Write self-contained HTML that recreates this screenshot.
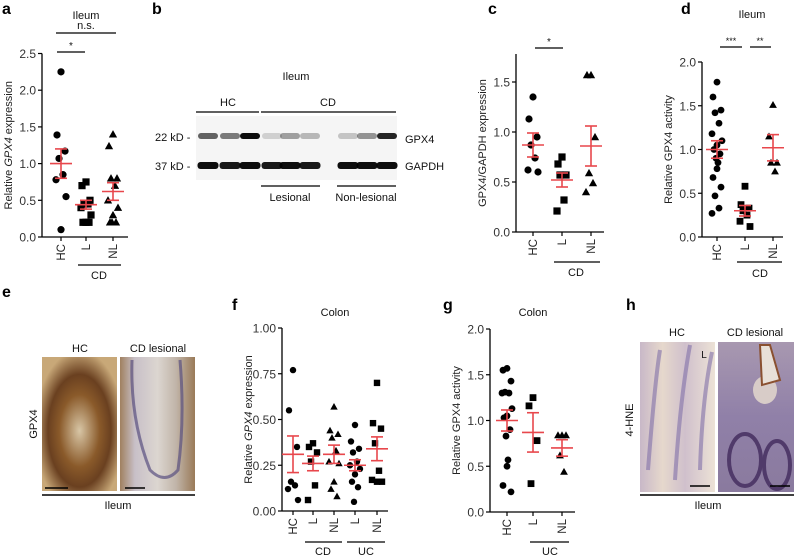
<!DOCTYPE html>
<html><head><meta charset="utf-8">
<style>
body{margin:0;background:#fff;}
svg{display:block;font-family:"Liberation Sans",sans-serif;}
</style></head>
<body>
<svg id="fig" width="794" height="557" viewBox="0 0 794 557">
<defs>
<radialGradient id="eHC" cx="50%" cy="55%" r="60%"><stop offset="0" stop-color="#d8c6a6"/><stop offset="0.45" stop-color="#8a5a2a"/><stop offset="0.7" stop-color="#6a4020"/><stop offset="1" stop-color="#c8a878"/></radialGradient>
<linearGradient id="eCD" x1="0" x2="1"><stop offset="0" stop-color="#a08060"/><stop offset="0.2" stop-color="#c8c0c8"/><stop offset="0.5" stop-color="#dcd6d0"/><stop offset="0.75" stop-color="#c0b4a8"/><stop offset="1" stop-color="#9a7a58"/></linearGradient>
<linearGradient id="hHC" x1="0" x2="1"><stop offset="0" stop-color="#c8b8c8"/><stop offset="0.3" stop-color="#e6d8cc"/><stop offset="0.6" stop-color="#d0c0cc"/><stop offset="1" stop-color="#ece2d6"/></linearGradient>
<linearGradient id="hCD" x1="0" y1="0" x2="0" y2="1"><stop offset="0" stop-color="#a898b0"/><stop offset="0.5" stop-color="#9080a8"/><stop offset="1" stop-color="#8a7a9e"/></linearGradient>
</defs>
<g id="static"></g>
<g id="charts"></g>
</svg>
<script>
// ---- data ----
const groupsA = ["HC","L","NL"];
const aHC = [2.25,1.39,1.17,1.07,0.85,0.78,0.55,0.1];
const aL = [0.75,0.7,0.5,0.45,0.45,0.4,0.3,0.2,0.2,0.2];
const aNL = [1.4,1.24,0.8,0.8,0.7,0.5,0.4,0.3,0.2,0.2,0.2];
const aMean = [1.0,0.44,0.62];
const aErr = [0.2,0.06,0.12];
const aTicks = [0,0.5,1.0,1.5,2.0,2.5];

const cHC = [1.35,1.13,0.95,0.87,0.74,0.62,0.6];
const cL = [0.75,0.68,0.57,0.57,0.32,0.21];
const cNL = [1.57,1.57,0.95,0.59,0.49,0.4];
const cMean = [0.87,0.52,0.86];
const cErr = [0.12,0.07,0.2];
const cTicks = [0,0.5,1.0,1.5];

const dHC = [1.77,1.6,1.45,1.42,1.3,1.18,1.1,1.05,1.0,0.95,0.9,0.85,0.78,0.68,0.57,0.47,0.33,0.27];
const dL = [0.58,0.37,0.33,0.3,0.25,0.18,0.12];
const dNL = [1.51,1.15,0.85,0.85,0.75];
const dMean = [1.0,0.3,1.02];
const dErr = [0.1,0.06,0.15];
const dTicks = [0,0.5,1.0,1.5,2.0];

const groupsF = ["HC","L","NL","L","NL"];
const fHC = [0.77,0.55,0.35,0.16,0.14,0.12,0.06];
const fCDL = [0.37,0.35,0.32,0.27,0.14,0.06];
const fCDNL = [0.57,0.44,0.42,0.40,0.33,0.27,0.26,0.16,0.12,0.08];
const fUCL = [0.47,0.38,0.34,0.32,0.27,0.25,0.23,0.2,0.16,0.13,0.05];
const fUCNL = [0.70,0.48,0.45,0.37,0.22,0.17,0.16,0.16];
const fMean = [0.31,0.26,0.31,0.25,0.34];
const fErr = [0.1,0.04,0.05,0.03,0.065];
const fTicks = [0,0.25,0.5,0.75,1.0];

const gHC = [1.57,1.55,1.43,1.31,1.3,1.3,1.13,1.05,1.03,0.9,0.83,0.57,0.5,0.29,0.22];
const gL = [1.25,1.16,0.78,0.31];
const gNL = [0.84,0.84,0.84,0.62,0.44];
const gMean = [1.0,0.87,0.7];
const gErr = [0.115,0.215,0.09];
const gTicks = [0,0.5,1.0,1.5,2.0];

const gelGPX4 = [0.6,0.5,0.95,0.15,0.35,0.25,0.2,0.4,0.85];
const gelGAPDH = [0.95,0.9,0.95,0.9,0.95,0.9,0.95,0.95,0.95];

const NS = "http://www.w3.org/2000/svg";
const charts = document.getElementById('charts');
const stat = document.getElementById('static');
function mk(tag, attrs, parent, text){
  const e = document.createElementNS(NS, tag);
  for (const k in attrs) e.setAttribute(k, attrs[k]);
  if (text !== undefined) e.textContent = text;
  (parent||charts).appendChild(e);
  return e;
}
function txt(x,y,s,size,parent,anchor,extra){
  return mk('text',Object.assign({x:x,y:y,'font-size':size,'text-anchor':anchor||'middle',fill:'#111'},extra||{}),parent,s);
}
function marker(g,shape,x,y,r){
  let e;
  if(shape==='c') e = mk('circle',{cx:x,cy:y,r:r,fill:'#000'},g);
  else if(shape==='s') e = mk('rect',{x:x-r,y:y-r,width:2*r,height:2*r,fill:'#000'},g);
  else e = mk('polygon',{points:`${x},${y-r*1.15} ${x-r*1.15},${y+r*0.9} ${x+r*1.15},${y+r*0.9}`,fill:'#000'},g);
  return e;
}
const jit = [0,-4,4,-2,2,-5,5,0,-3,3,-1,1];
function panel(p){
  const g = mk('g',{});
  
  
  const Y = v => p.y0 - v*p.ppu;
  const top = Y(p.ymax);
  mk('line',{x1:p.ax,y1:top,x2:p.ax,y2:p.y0,stroke:'#000','stroke-width':1.3},g);
  mk('line',{x1:p.ax,y1:p.y0,x2:p.xend,y2:p.y0,stroke:'#000','stroke-width':1.3},g);
  p.ticks.forEach(t=>{
    mk('line',{x1:p.ax-4,y1:Y(t),x2:p.ax,y2:Y(t),stroke:'#000','stroke-width':1.2},g);
    const lab = txt(p.ax-6,Y(t)+4.5,t.toFixed(p.dec),12,g,'end',{fill:'#333'});
    
    
  });
  const yt = txt(0,0,'',11,g,'middle',{transform:`translate(${p.ax-30},${(top+p.y0)/2}) rotate(-90)`,fill:'#222'});
  
  
  p.title.forEach(part=>{ mk('tspan',part[1]?{'font-style':'italic'}:{},yt,part[0]); });
  p.gx.forEach((x,i)=>{
    mk('line',{x1:x,y1:p.y0,x2:x,y2:p.y0+4,stroke:'#000','stroke-width':1.2},g);
    const l = txt(0,0,p.groups[i],11.5,g,'end',{transform:`translate(${x+4},${p.y0+7}) rotate(-90)`,fill:'#222'});
    
    
    const pts = p.series[i];
    pts.forEach((v,j)=>{
      const m = marker(g,p.shapes[i],x+jit[j%jit.length]*p.js,Y(v),p.r);
      
      
    });
    const mean=p.mean[i], e=p.err[i];
    const eb = mk('g',{stroke:'#e8474c','stroke-width':1.6},g);
    
    
    mk('line',{x1:x-11,y1:Y(mean),x2:x+11,y2:Y(mean)},eb);
    mk('line',{x1:x,y1:Y(mean-e),x2:x,y2:Y(mean+e)},eb);
    mk('line',{x1:x-6,y1:Y(mean-e),x2:x+6,y2:Y(mean-e)},eb);
    mk('line',{x1:x-6,y1:Y(mean+e),x2:x+6,y2:Y(mean+e)},eb);
  });
  return g;
}
panel({name:'panel-a-chart',ax:42,xend:128,y0:237,ppu:73.4,ymax:2.5,ticks:aTicks,dec:1,gx:[61,86,113],groups:groupsA,series:[aHC,aL,aNL],mean:aMean,err:aErr,shapes:['c','s','t'],r:3.6,js:1,title:[['Relative '],['GPX4',true],[' expression']]});
panel({name:'panel-c-chart',ax:516,xend:604,y0:232,ppu:100,ymax:1.78,ticks:cTicks,dec:1,gx:[533,562,591],groups:groupsA,series:[cHC,cL,cNL],mean:cMean,err:cErr,shapes:['c','s','t'],r:3.6,js:1,title:[['GPX4/GAPDH expression']]});
panel({name:'panel-d-chart',ax:702,xend:783,y0:237,ppu:87.5,ymax:2.0,ticks:dTicks,dec:1,gx:[717,745,773],groups:groupsA,series:[dHC,dL,dNL],mean:dMean,err:dErr,shapes:['c','s','t'],r:3.4,js:1,title:[['Relative GPX4 activity']]});
panel({name:'panel-f-chart',ax:282,xend:388,y0:511,ppu:183,ymax:1.0,ticks:fTicks,dec:2,gx:[293,313,334,355,377],groups:groupsF,series:[fHC,fCDL,fCDNL,fUCL,fUCNL],mean:fMean,err:fErr,shapes:['c','s','t','c','s'],r:3.2,js:1,title:[['Relative '],['GPX4',true],[' expression']]});
panel({name:'panel-g-chart',ax:490,xend:575,y0:512,ppu:91.5,ymax:2.0,ticks:gTicks,dec:1,gx:[507,533,562],groups:groupsA,series:[gHC,gL,gNL],mean:gMean,err:gErr,shapes:['c','s','t'],r:3.4,js:1,title:[['Relative GPX4 activity']]});

// ---- annotations ----
function line(x1,y1,x2,y2,w,name,par){const l=mk('line',{x1:x1,y1:y1,x2:x2,y2:y2,stroke:'#000','stroke-width':w||1.2},par||stat);return l;}
function lab(x,y,s,size,name,extra,anchor){const t=txt(x,y,s,size,stat,anchor||'middle',extra);return t;}
[['a',2,14],['b',152,14],['c',488,14],['d',681,14],['e',2,297],['f',232,310],['g',443,310],['h',626,310]].forEach(a=>{lab(a[1],a[2],a[0],16,'panel-label-'+a[0],{'font-weight':'bold',fill:'#000'},'start');});
lab(86,19,'Ileum',11,'panel-a-title');
line(56,33,116,33,1.2,'ns-bracket'); lab(86,29,'n.s.',11,'ns-label');
line(57,52,85,52,1.2,'sig-bracket'); lab(71,49,'*',10,'sig-label');
line(78,265,121,265,1.2,'cd-group-line'); lab(99,279,'CD',11,'cd-group-label');
line(535,48,563,48,1.2,'sig-bracket'); lab(549,45,'*',10,'sig-label');
line(554,262,600,262,1.2,'cd-group-line'); lab(576,276,'CD',11,'cd-group-label');
lab(752,18,'Ileum',11,'panel-d-title');
line(720,47,742,47,1.2,'sig-bracket'); lab(731,44,'***',9,'sig-label');
line(750,47,771,47,1.2,'sig-bracket'); lab(760,44,'**',9,'sig-label');
line(737,262,782,262,1.2,'cd-group-line'); lab(760,277,'CD',11,'cd-group-label');
lab(335,316,'Colon',11,'panel-f-title');
line(305,542,342,542,1.2,'cd-group-line'); lab(323,555,'CD',11,'cd-group-label');
line(347,542,385,542,1.2,'uc-group-line'); lab(366,555,'UC',11,'uc-group-label');
lab(533,316,'Colon',11,'panel-g-title');
line(530,542,569,542,1.2,'uc-group-line'); lab(550,555,'UC',11,'uc-group-label');

// ---- panel b western blot ----
lab(296,80,'Ileum',11,'panel-b-title');
line(196,112,259,112,1.2,'hc-lane-line'); lab(228,106,'HC',11,'hc-lane-label');
line(261,112,396,112,1.2,'cd-lane-line'); lab(328,106,'CD',11,'cd-lane-label');
const gel = mk('rect',{x:196,y:116,width:201,height:64,fill:'#f5f5f5'},stat);

const lanes=[208,230,250,272,290,310,348,367,387];
gelGPX4.forEach((v,i)=>{const b=mk('rect',{x:lanes[i]-10,y:133,width:20,height:6,rx:3,fill:'#000','fill-opacity':v},stat);});
gelGAPDH.forEach((v,i)=>{const b=mk('rect',{x:lanes[i]-10.5,y:162,width:21,height:7,rx:3,fill:'#000','fill-opacity':v},stat);});
lab(155,141,'22 kD -',11,'marker-22kd',{},'start');
lab(155,170,'37 kD -',11,'marker-37kd',{},'start');
lab(405,143,'GPX4',11,'gpx4-label',{},'start');
lab(405,170,'GAPDH',11,'gapdh-label',{},'start');
line(261,186,320,186,1.2,'lesional-line'); lab(290,201,'Lesional',11,'lesional-label');
line(337,186,396,186,1.2,'nonlesional-line'); lab(366,201,'Non-lesional',11,'nonlesional-label');

// ---- panel e / h images ----
function img(x,y,w,h,fill,name){const r=mk('rect',{x:x,y:y,width:w,height:h,fill:fill},stat);return r;}
img(42,357,75,134,'url(#eHC)','ihc-gpx4-hc-image');
img(120,357,75,134,'url(#eCD)','ihc-gpx4-cd-image');
mk('path',{d:'M132,360 Q130,420 150,470 Q165,485 178,470 Q185,420 180,360',stroke:'#5a5080','stroke-width':3,fill:'none','stroke-opacity':0.7},stat);
line(45,488,68,488,1.5,'scale-bar');line(125,488,145,488,1.5,'scale-bar');
lab(80,352,'HC',11,'e-hc-label'); lab(158,352,'CD lesional',11,'e-cd-label');
lab(0,0,'GPX4',11,'e-stain-label',{transform:'translate(37,424) rotate(-90)'});
line(42,495,195,495,1.5,'e-ileum-line'); lab(118,509,'Ileum',11,'e-ileum-label');
img(640,342,75,150,'url(#hHC)','ihc-4hne-hc-image');
img(718,342,76,150,'url(#hCD)','ihc-4hne-cd-image');
mk('path',{d:'M648,470 Q655,380 660,350 M675,480 Q680,400 690,345 M700,470 Q702,400 712,352',stroke:'#8070a8','stroke-width':4,fill:'none','stroke-opacity':0.6},stat);
mk('ellipse',{cx:745,cy:460,rx:16,ry:26,fill:'none',stroke:'#503a6a','stroke-width':4},stat);
mk('ellipse',{cx:777,cy:465,rx:13,ry:24,fill:'none',stroke:'#503a6a','stroke-width':4},stat);
mk('ellipse',{cx:765,cy:390,rx:12,ry:14,fill:'#d8ccc8'},stat);
mk('path',{d:'M760,345 L770,345 L780,380 L762,385 Z',fill:'#e8e0d8',stroke:'#8a5030','stroke-width':2},stat);
lab(704,358,'L',10,'lumen-label');
line(690,486,710,486,1.5,'scale-bar');line(770,486,790,486,1.5,'scale-bar');
lab(677,336,'HC',11,'h-hc-label'); lab(755,336,'CD lesional',11,'h-cd-label');
lab(0,0,'4-HNE',11,'h-stain-label',{transform:'translate(633,420) rotate(-90)'});
line(640,495,794,495,1.5,'h-ileum-line'); lab(708,509,'Ileum',11,'h-ileum-label');
</script>
</body></html>
